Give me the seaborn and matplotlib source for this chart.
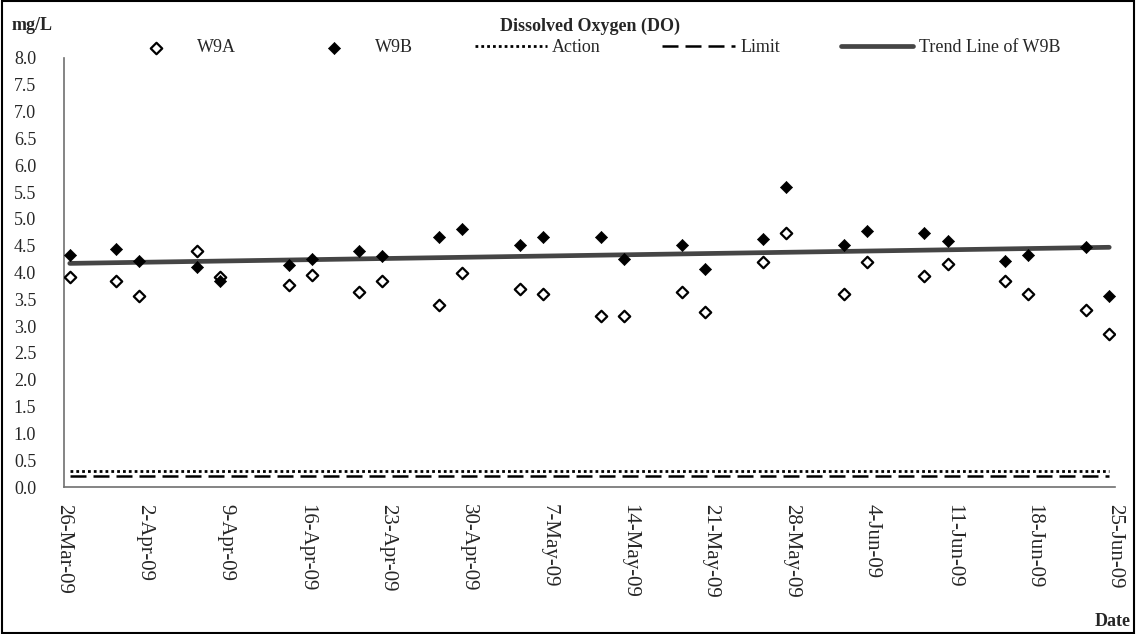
import numpy as np
import pandas as pd
import matplotlib
matplotlib.use("Agg")
import matplotlib.pyplot as plt
import matplotlib.dates as mdates
from matplotlib.patches import Rectangle
import seaborn as sns

# sampling dates and readings (mg/L)
sample_dates = ["2009-03-26", "2009-03-30", "2009-04-01", "2009-04-06", "2009-04-08",
                "2009-04-14", "2009-04-16", "2009-04-20", "2009-04-22", "2009-04-27",
                "2009-04-29", "2009-05-04", "2009-05-06", "2009-05-11", "2009-05-13",
                "2009-05-18", "2009-05-20", "2009-05-25", "2009-05-27", "2009-06-01",
                "2009-06-03", "2009-06-08", "2009-06-10", "2009-06-15", "2009-06-17",
                "2009-06-22", "2009-06-24"]
w9a = [3.92, 3.85, 3.56, 4.41, 3.92, 3.77, 3.96, 3.63, 3.85, 3.40,
       4.00, 3.70, 3.59, 3.19, 3.19, 3.63, 3.26, 4.19, 4.74, 3.59,
       4.19, 3.93, 4.15, 3.85, 3.59, 3.30, 2.85]
w9b = [4.33, 4.44, 4.22, 4.11, 3.85, 4.14, 4.26, 4.41, 4.30, 4.67,
       4.81, 4.52, 4.67, 4.67, 4.26, 4.52, 4.07, 4.63, 5.59, 4.52,
       4.78, 4.74, 4.59, 4.22, 4.33, 4.48, 3.56]
action_level = 0.3
limit_level = 0.2
trend_values = [4.17, 4.47]  # trend line of W9B, start / end of the period

tick_dates = pd.date_range("2009-03-26", "2009-06-25", freq="7D")

sns.set_theme(style="white")
plt.rcParams["font.family"] = ["Liberation Serif", "DejaVu Serif"]

W, H = 1136, 634
fig = plt.figure(figsize=(W / 100, H / 100), dpi=100)
ax = fig.add_axes([64 / W, 1 - 487 / H, (1115 - 64) / W, (487 - 58) / H])

# Excel centres each point in its day slot
x = pd.to_datetime(sample_dates) + pd.Timedelta(hours=12)
n = len(x)

sns.lineplot(x=x, y=[action_level] * n, ax=ax, color="black", lw=2.0,
             linestyle=(0, (1, 1.1)), label="Action")
sns.lineplot(x=x, y=[limit_level] * n, ax=ax, color="black", lw=1.8,
             linestyle=(0, (6.4, 2.8)), label="Limit")
sns.lineplot(x=[x[0], x[-1]], y=trend_values, ax=ax, color="#454545", lw=3.4,
             label="Trend Line of W9B")
sns.scatterplot(x=x, y=w9a, ax=ax, marker="D", s=34, color="white",
                edgecolor="black", linewidth=1.6, label="W9A", zorder=3)
sns.scatterplot(x=x, y=w9b, ax=ax, marker="D", s=38, color="black",
                edgecolor="black", linewidth=0.5, label="W9B", zorder=3)

handles, labels = ax.get_legend_handles_labels()
if ax.get_legend() is not None:
    ax.get_legend().remove()
order = [labels.index(k) for k in ["W9A", "W9B", "Action", "Limit", "Trend Line of W9B"]]
fig.legend([handles[i] for i in order], [labels[i] for i in order],
           loc="center", bbox_to_anchor=(590 / W, 1 - 48 / H), ncol=5,
           frameon=False, fontsize=13, handlelength=4, handletextpad=0.3,
           columnspacing=3.4, borderaxespad=0)

ax.set_ylim(0, 8)
ax.set_yticks(np.arange(0, 8.01, 0.5))
ax.set_yticklabels([f"{v:.1f}" for v in np.arange(0, 8.01, 0.5)])
ax.set_xlim(tick_dates[0], tick_dates[-1])
ax.set_xticks(tick_dates)
ax.xaxis.set_major_formatter(mdates.DateFormatter("%-d-%b-%y"))
ax.tick_params(axis="x", direction="in", length=5, color="#707070",
               labelsize=15, pad=12, labelrotation=270)
ax.tick_params(axis="y", direction="in", length=5, color="#707070",
               labelsize=13, pad=20)
for lab in ax.get_xticklabels():
    lab.set_ha("center")
    lab.set_va("top")

for side in ["top", "right"]:
    ax.spines[side].set_visible(False)
for side in ["left", "bottom"]:
    ax.spines[side].set_color("#707070")
    ax.spines[side].set_linewidth(1.2)
ax.grid(False)
ax.set_xlabel("")
ax.set_ylabel("")

fig.text(12 / W, 1 - 26 / H, "mg/L", fontsize=13, fontweight="bold", va="center")
fig.text(590 / W, 1 - 26 / H, "Dissolved Oxygen (DO)", fontsize=13,
         fontweight="bold", ha="center", va="center")
fig.text(1131 / W, 1 - 622 / H, "Date", fontsize=13, fontweight="bold",
         ha="right", va="center")

fig.patches.append(Rectangle((0.002, 0.002), 0.996, 0.996, transform=fig.transFigure,
                             fill=False, edgecolor="black", lw=1.5))

fig.savefig("out.png", dpi=100)
